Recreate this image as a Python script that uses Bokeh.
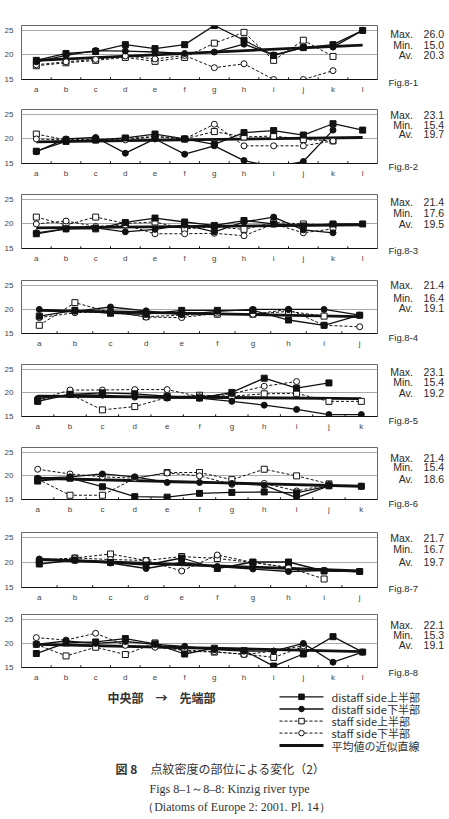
from bokeh.plotting import figure
from bokeh.models import FactorRange, Range1d, FixedTicker, Label
from bokeh.layouts import column, row
from bokeh.embed import file_html
from bokeh.resources import INLINE

NaN = float("nan")

# ---------------------------------------------------------------- data
# Stria density (per 10 µm) at each position, a = centre ... last = apex.
# du: distaff side upper half, dl: distaff side lower half,
# su: staff side upper half,   sl: staff side lower half.

f1_cats = list("abcdefghijkl")
f1_du = [18.9, 20.3, 20.7, 22.1, 21.3, 22.1, 26.0, 23.0, 19.9, 21.5, 22.1, 25.0]
f1_dl = [18.6, 19.9, 20.9, 20.8, 20.6, 20.3, 20.6, 22.2, 20.0, 21.5, 21.6, 25.0]
f1_su = [17.8, 18.4, 18.9, 19.5, 18.7, 19.5, 22.4, 24.6, 18.9, 23.0, 19.7, NaN]
f1_sl = [18.0, 18.6, 19.1, 19.8, 19.2, 19.9, 17.4, 18.2, 15.0, 15.0, 16.8, NaN]
f1_trend = [18.9, 22.0]
f1_stats = ["26.0", "15.0", "20.3"]

f2_cats = list("abcdefghijkl")
f2_du = [17.5, 19.5, 19.8, 20.2, 21.0, 20.0, 18.9, 21.3, 21.7, 20.8, 23.1, 21.8]
f2_dl = [17.4, 20.0, 20.3, 17.1, 20.0, 16.9, 18.6, 15.6, 14.3, 15.4, 21.8, NaN]
f2_su = [21.0, 19.8, 19.8, 20.1, 20.5, 20.0, 21.5, 20.4, 20.6, 19.9, 19.6, NaN]
f2_sl = [20.0, 19.8, 20.0, 19.8, 20.5, 20.0, 23.0, 18.6, 18.6, 18.6, 19.6, NaN]
f2_trend = [19.4, 20.3]
f2_stats = ["23.1", "15.4", "19.7"]

f3_cats = list("abcdefghijkl")
f3_du = [18.0, 19.0, 19.0, 20.3, 21.2, 20.4, 19.7, 20.7, 20.0, 19.6, 20.0, 20.0]
f3_dl = [18.2, 19.0, 19.2, 18.4, 18.9, 19.8, 18.4, 20.4, 21.4, 18.8, 18.2, NaN]
f3_su = [21.4, 19.8, 21.4, 20.1, 20.4, 19.0, 19.4, 18.9, 20.3, 20.0, 19.8, NaN]
f3_sl = [20.0, 20.6, 19.5, 19.8, 18.0, 18.0, 18.1, 17.6, 20.0, 18.2, 19.0, NaN]
f3_trend = [19.2, 19.8]
f3_stats = ["21.4", "17.6", "19.5"]

f4_cats = list("abcdefghij")
f4_du = [18.6, 19.8, 19.2, 19.0, 19.8, 19.8, 19.8, 17.8, 16.7, 18.8]
f4_dl = [20.0, 19.6, 20.5, 19.7, 18.9, 19.6, 20.0, 20.0, 20.0, 18.8]
f4_su = [16.7, 21.4, 19.4, 18.5, 18.8, 19.0, 19.0, 19.6, 18.6, NaN]
f4_sl = [18.3, 19.3, 19.6, 18.4, 18.3, 19.2, 19.0, 20.0, 16.7, 16.4]
f4_trend = [19.8, 18.5]
f4_stats = ["21.4", "16.4", "19.1"]

f5_cats = list("abcdefghijk")
f5_du = [18.2, 19.7, 20.0, 19.8, 19.3, 18.9, 20.1, 23.1, 21.0, 22.1, NaN]
f5_dl = [18.8, 19.6, 19.5, 19.1, 18.9, 18.9, 18.2, 17.4, 16.5, 15.4, 15.4]
f5_su = [18.4, 19.7, 16.4, 17.1, 19.0, 19.5, 19.3, 19.8, 19.9, 18.2, 18.2]
f5_sl = [18.5, 20.6, 20.6, 20.7, 20.7, 19.2, 19.8, 21.4, 22.4, NaN, NaN]
f5_trend = [19.3, 18.8]
f5_stats = ["23.1", "15.4", "19.2"]

f6_cats = list("abcdefghijk")
f6_du = [18.9, 19.5, 17.7, 15.6, 15.5, 16.3, 16.5, 16.6, 16.4, 17.9, 17.8]
f6_dl = [19.5, 19.8, 20.4, 19.8, 18.6, 18.6, 18.4, 18.0, 15.4, 17.9, 17.8]
f6_su = [19.3, 15.9, 15.9, 19.5, 20.7, 20.7, 19.2, 21.4, 20.0, 18.3, NaN]
f6_sl = [21.4, 20.4, 19.8, 19.5, 20.6, 20.0, 18.2, 18.4, 16.8, 18.2, NaN]
f6_trend = [19.5, 17.8]
f6_stats = ["21.4", "15.4", "18.6"]

f7_cats = list("abcdefghij")
f7_du = [19.7, 20.5, 20.0, 19.5, 20.9, 18.8, 20.1, 20.1, 18.3, 18.2]
f7_dl = [20.7, 20.4, 19.9, 18.8, 20.0, 19.2, 18.7, 18.2, 18.4, 18.2]
f7_su = [20.3, 20.9, 21.7, 20.4, 21.2, 20.8, 20.0, 19.0, 16.7, NaN]
f7_sl = [20.5, 20.9, 20.6, 20.4, 18.3, 21.5, 20.0, 19.0, 18.4, NaN]
f7_trend = [20.6, 18.3]
f7_stats = ["21.7", "16.7", "19.7"]

f8_cats = list("abcdefghijkl")
f8_du = [17.9, 20.1, 20.3, 21.0, 19.9, 17.8, 19.0, 18.5, 15.3, 17.8, 21.4, 18.2]
f8_dl = [19.8, 20.5, 20.0, 20.4, 19.8, 19.4, 18.7, 18.4, 18.4, 20.0, 16.1, 18.2]
f8_su = [19.8, 17.4, 19.2, 17.7, 20.1, 18.4, 18.2, 17.8, 17.1, 19.3, NaN, NaN]
f8_sl = [21.2, 20.7, 22.1, 19.6, 19.2, 18.6, 18.3, 17.7, 18.4, 19.5, NaN, NaN]
f8_trend = [19.8, 18.3]
f8_stats = ["22.1", "15.3", "19.1"]

stat_names = ["Max.", "Min.", "Av."]
fig_names = ["Fig.8-1", "Fig.8-2", "Fig.8-3", "Fig.8-4",
             "Fig.8-5", "Fig.8-6", "Fig.8-7", "Fig.8-8"]
y_ticks = [15, 20, 25]

series_labels = ["distaff side上半部", "distaff side下半部",
                 "staff side上半部", "staff side下半部", "平均値の近似直線"]

panels = [
    (f1_cats, f1_du, f1_dl, f1_su, f1_sl, f1_trend),
    (f2_cats, f2_du, f2_dl, f2_su, f2_sl, f2_trend),
    (f3_cats, f3_du, f3_dl, f3_su, f3_sl, f3_trend),
    (f4_cats, f4_du, f4_dl, f4_su, f4_sl, f4_trend),
    (f5_cats, f5_du, f5_dl, f5_su, f5_sl, f5_trend),
    (f6_cats, f6_du, f6_dl, f6_su, f6_sl, f6_trend),
    (f7_cats, f7_du, f7_dl, f7_su, f7_sl, f7_trend),
    (f8_cats, f8_du, f8_dl, f8_su, f8_sl, f8_trend),
]
panel_stats = [f1_stats, f2_stats, f3_stats, f4_stats,
               f5_stats, f6_stats, f7_stats, f8_stats]

# ---------------------------------------------------------------- layout
# page offsets (px): figure start / height, frame top / height / left / right,
# rows of the Max/Min/Av block and the figure tag
layout = [
    dict(y0=0,   h=97, top=25,  fh=54, left=20, right=380, rows=(33, 44, 54.5),      tag=82),
    dict(y0=97,  h=85, top=109, fh=54, left=20, right=380, rows=(114, 124, 133.5),   tag=166),
    dict(y0=182, h=85, top=194, fh=54, left=20, right=380, rows=(201, 212.5, 223.5), tag=250),
    dict(y0=267, h=85, top=280, fh=53, left=21, right=378, rows=(284.5, 297, 307.5), tag=337),
    dict(y0=352, h=82, top=364, fh=52, left=20, right=380, rows=(371, 381.5, 392),   tag=419.5),
    dict(y0=434, h=84, top=447, fh=52, left=20, right=380, rows=(457, 466.5, 478),   tag=503),
    dict(y0=518, h=87, top=532, fh=55, left=20, right=379, rows=(537, 548, 561.5),   tag=587.5),
    dict(y0=605, h=80, top=614, fh=53, left=18, right=377, rows=(624, 634, 644),     tag=672),
]

W = 449
CW = 381            # width of the chart column
CHARTS_H = 685      # height of the chart column
INK = "#111111"
TXT = "#2a2a2a"
SANS = "Liberation Sans"
CJK = "Noto Sans CJK JP"

DU = dict(line_color=INK, line_width=1.3)
DL = dict(line_color=INK, line_width=1.3)
SU = dict(line_color=INK, line_width=1.0, line_dash="3 2")
SL = dict(line_color=INK, line_width=1.0, line_dash="3 2")
TR = dict(line_color=INK, line_width=2.8)
MK_DU = dict(marker="square", size=6, fill_color=INK, line_color=INK)
MK_DL = dict(marker="circle", size=6, fill_color=INK, line_color=INK)
MK_SU = dict(marker="square", size=6, fill_color="white", line_color=INK, line_width=1)
MK_SL = dict(marker="circle", size=6, fill_color="white", line_color=INK, line_width=1)


def small_chart(data, lay):
    cats, du, dl, su, sl, trend = data
    n = len(cats)
    bottom = lay["top"] + lay["fh"]
    p = figure(width=CW, height=lay["h"], x_range=FactorRange(*cats),
               y_range=Range1d(15, 26), output_backend="svg",
               toolbar_location=None, min_border=0,
               min_border_left=lay["left"], min_border_right=CW - lay["right"],
               min_border_top=lay["top"] - lay["y0"],
               min_border_bottom=lay["y0"] + lay["h"] - bottom)
    p.outline_line_color = "#666666"
    p.outline_line_width = 1
    p.xgrid.grid_line_color = None
    p.ygrid.grid_line_color = "#aaaaaa"
    p.ygrid.grid_line_width = 1
    p.yaxis.ticker = FixedTicker(ticks=y_ticks)
    for ax in (p.xaxis[0], p.yaxis[0]):
        ax.major_tick_in = 0
        ax.major_tick_out = 0
        ax.minor_tick_in = 0
        ax.minor_tick_out = 0
        ax.major_label_text_font = SANS
        ax.major_label_text_font_size = "8px"
        ax.major_label_text_color = "#444444"
    p.yaxis.axis_line_color = None
    p.yaxis.major_label_standoff = 8
    p.xaxis.axis_line_color = INK
    p.xaxis.axis_line_width = 1.2
    p.xaxis.major_label_standoff = 5

    # small tick marks between categories, pointing into the plot
    bounds = list(range(1, n))
    p.segment(x0=bounds, y0=[15] * len(bounds), x1=bounds,
              y1=[15.45] * len(bounds), line_color=INK, line_width=1)

    p.line(cats, su, **SU)
    p.line(cats, sl, **SL)
    p.line(cats, du, **DU)
    p.line(cats, dl, **DL)
    p.line([cats[0], cats[-1]], trend, **TR)
    p.scatter(cats, su, **MK_SU)
    p.scatter(cats, sl, **MK_SL)
    p.scatter(cats, du, **MK_DU)
    p.scatter(cats, dl, **MK_DL)
    return p


charts = [small_chart(d, l) for d, l in zip(panels, layout)]

# ---------------------------------------------------------------- side notes
# ranges are in page pixels (y grows downwards)
side = figure(width=W - CW, height=CHARTS_H, x_range=Range1d(CW, W),
              y_range=Range1d(CHARTS_H, 0), output_backend="svg",
              toolbar_location=None, min_border=0,
              x_axis_type=None, y_axis_type=None)
side.outline_line_color = None
side.grid.visible = False


def note(fig, x, y, text, align="left", size="10.5px", font=SANS,
         style="normal", color=TXT):
    fig.add_layout(Label(x=x, y=y, text=text, text_align=align,
                         text_baseline="middle", text_font=font,
                         text_font_size=size, text_font_style=style,
                         text_color=color))


for lay, stats, name in zip(layout, panel_stats, fig_names):
    for row_y, sname, sval in zip(lay["rows"], stat_names, stats):
        note(side, 412.5, row_y, sname, align="right")
        note(side, 443.5, row_y, sval, align="right")
    note(side, 388, lay["tag"], name, size="9.5px")

# ---------------------------------------------------------------- footer
FH = 819 - CHARTS_H
footer = figure(width=W, height=FH, x_range=Range1d(0, W),
                y_range=Range1d(819, CHARTS_H), output_backend="svg",
                toolbar_location=None, min_border=0,
                x_axis_type=None, y_axis_type=None)
footer.outline_line_color = None
footer.grid.visible = False

# legend: sample line with its marker, then the series name
legend_rows = [696.3, 708.5, 720.6, 732.6, 745.0]
key_x0, key_x1, key_mid, key_text = 279, 323, 301, 331
line_styles = [DU, DL, SU, SL, TR]
marker_styles = [MK_DU, MK_DL, MK_SU, MK_SL, None]
for ry, ls, ms, lbl in zip(legend_rows, line_styles, marker_styles, series_labels):
    footer.line([key_x0, key_x1], [ry, ry], **ls)
    if ms is not None:
        footer.scatter([key_mid], [ry], **dict(ms, size=5.5))
    note(footer, key_text, ry, lbl, size="11px", font=CJK, color="#333333")

note(footer, 161, 696.5, "中央部　→　先端部", align="center", size="12px",
     font=CJK, style="bold", color="#333333")
note(footer, 115, 768, "図 8", size="12px", font=CJK, style="bold",
     color="#333333")
note(footer, 150, 768, "点紋密度の部位による変化（2）", size="12px",
     font=CJK, color="#333333")
note(footer, 229, 788.5, "Figs 8–1～8–8: Kinzig river type", align="center",
     size="12px", font="Liberation Serif", color="#333333")
note(footer, 236, 806.5, "（Diatoms of Europe 2: 2001. Pl. 14）", align="center",
     size="12px", font="Liberation Serif", color="#333333")

page = column(row(column(*charts, spacing=0), side, spacing=0), footer, spacing=0)
open("out.html", "w").write(file_html(page, INLINE))
